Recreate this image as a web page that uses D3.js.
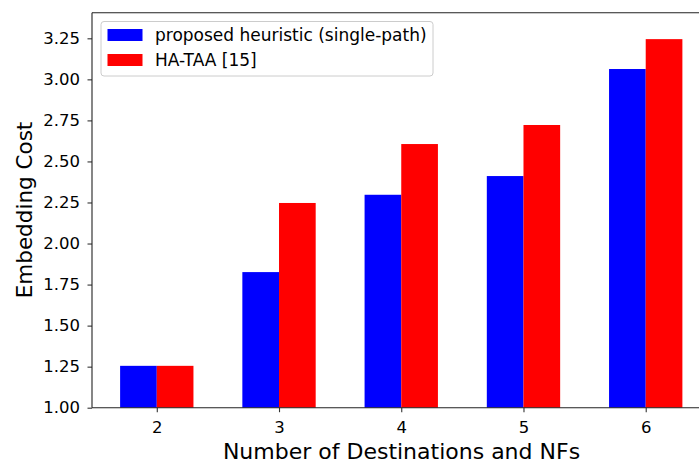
<!DOCTYPE html>
<html>
<head>
<meta charset="utf-8">
<script src="https://cdn.jsdelivr.net/npm/d3@7"></script>
<style>
  body { margin: 0; background: #fff; }
  svg text { font-family: "DejaVu Sans", sans-serif; fill: #000; }
</style>
</head>
<body>
<div id="chart"></div>
<script>
// data
const categories = [2, 3, 4, 5, 6];
const proposed = [1.255, 1.826, 2.297, 2.411, 3.063];
const hataa = [1.255, 2.247, 2.606, 2.722, 3.245];
const seriesNames = ["proposed heuristic (single-path)", "HA-TAA [15]"];
const seriesColors = ["#0000ff", "#ff0000"];
const yTicks = [1.00, 1.25, 1.50, 1.75, 2.00, 2.25, 2.50, 2.75, 3.00, 3.25];

const W = 699, H = 465;
const barW = 0.3;

const svg = d3.select("#chart").append("svg")
  .attr("width", W)
  .attr("height", H);

// x is linear like matplotlib: bars at i -/+ width
let x = d3.scaleLinear()
  .domain([1.47, 6.53])
  .range([92, 710.5]);

let y = d3.scaleLinear()
  .domain([1.0, 3.406])
  .range([407.7, 12.7]);

const g = svg.append("g");

// bars
const series = [proposed, hataa];
series.forEach(function(vals, s) {
  g.selectAll(".bar" + s)
    .data(categories)
    .enter()
    .append("rect")
    .attr("class", "bar" + s)
    .attr("x", function(d) { return x(s === 0 ? d - barW : d); })
    .attr("width", function() { return x(barW) - x(0); })
    .attr("y", function(d, i) { return y(vals[i]); })
    .attr("height", function(d, i) { return y(1.0) - y(vals[i]); })
    .style("fill", seriesColors[s]);
});

// axes
const xAxis = svg.append("g")
  .attr("transform", "translate(0," + y(1.0) + ")")
  .call(d3.axisBottom(x).tickValues(categories).tickSize(4.5).tickPadding(9.5).tickFormat(d3.format("d")));
const yAxis = svg.append("g")
  .attr("transform", "translate(" + x(1.47) + ",0)")
  .call(d3.axisLeft(y).tickValues(yTicks).tickSize(4.5).tickPadding(7.5).tickFormat(d3.format(".2f")));

[xAxis, yAxis].forEach(function(a) {
  a.select(".domain").remove();
  a.selectAll("line").attr("stroke", "#333").attr("stroke-width", 1.1);
  a.selectAll("text").style("font-size", "16.5px").attr("fill", "#262626");
});

// spines
const spine = svg.append("g").attr("fill", "none").attr("stroke", "#222").attr("stroke-width", 1.1);
spine.append("line").attr("x1", x(1.47)).attr("x2", W).attr("y1", y(1.0)).attr("y2", y(1.0));
spine.append("line").attr("x1", x(1.47)).attr("x2", W).attr("y1", y(3.406)).attr("y2", y(3.406));
spine.append("line").attr("x1", x(1.47)).attr("x2", x(1.47)).attr("y1", y(1.0)).attr("y2", y(3.406));

// axis labels
svg.append("text")
  .attr("x", 401.5)
  .attr("y", 459)
  .attr("text-anchor", "middle")
  .style("font-size", "22px")
  .text("Number of Destinations and NFs");

svg.append("text")
  .attr("transform", "translate(31.5,210) rotate(-90)")
  .attr("text-anchor", "middle")
  .style("font-size", "21.5px")
  .text("Embedding Cost");

// legend
const legend = svg.append("g").attr("transform", "translate(101,21.5)");
legend.append("rect")
  .attr("width", 332)
  .attr("height", 54.5)
  .attr("rx", 3)
  .attr("fill", "#fff")
  .attr("fill-opacity", 0.8)
  .attr("stroke", "#ccc")
  .attr("stroke-width", 1);
seriesNames.forEach(function(name, i) {
  legend.append("rect")
    .attr("x", 6.5)
    .attr("y", 7.5 + i * 25)
    .attr("width", 35)
    .attr("height", 12)
    .attr("fill", seriesColors[i]);
  legend.append("text")
    .attr("x", 54)
    .attr("y", 19.5 + i * 25)
    .style("font-size", "17px")
    .attr("fill", "#262626")
    .text(name);
});
</script>
</body>
</html>
